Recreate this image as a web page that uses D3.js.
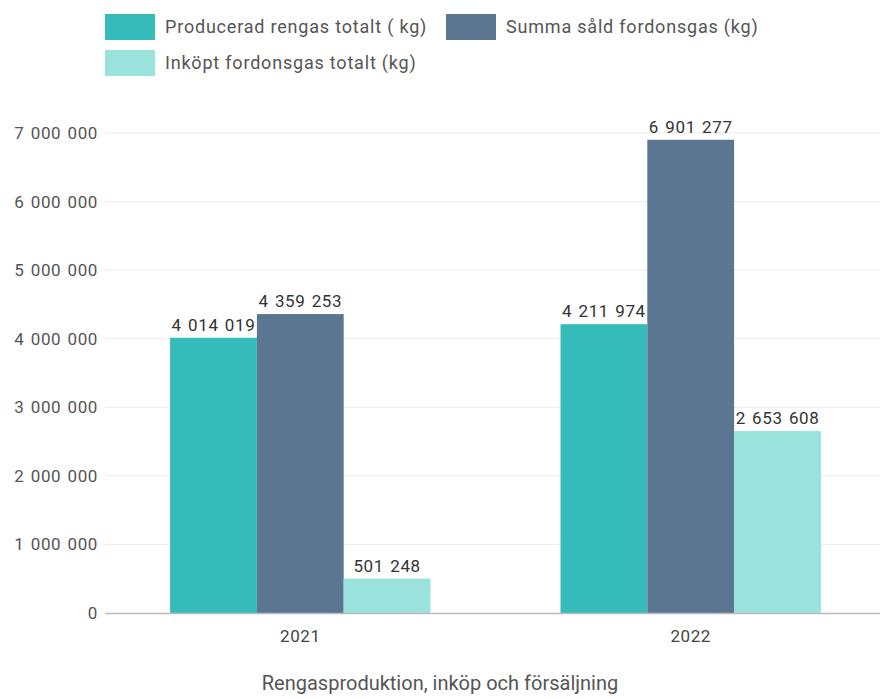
<!DOCTYPE html>
<html><head><meta charset="utf-8">
<script src="https://cdn.jsdelivr.net/npm/d3@7"></script>
<style>body{margin:0;background:#fff;font-family:Roboto,sans-serif}</style>
</head><body>
<svg id="c" width="880" height="698"></svg>
<script>
const categories = ["2021", "2022"];
const seriesNames = ["Producerad rengas totalt ( kg)", "Summa såld fordonsgas (kg)", "Inköpt fordonsgas totalt (kg)"];
const seriesColors = ["#36BBBB", "#5A7690", "#9AE3DD"];
const producerad = [4014019, 4211974];
const summaSald = [4359253, 6901277];
const inkopt = [501248, 2653608];
const yTicks = [0, 1000000, 2000000, 3000000, 4000000, 5000000, 6000000, 7000000];
const title = "Rengasproduktion, inköp och försäljning";

const series = [producerad, summaSald, inkopt];
const svg = d3.select("#c");
const loc = d3.formatLocale({decimal: ",", thousands: " ", grouping: [3], currency: ["", ""]});
const fmt = loc.format(",d");

const pLeft = 105, pRight = 886, pTop = 133, pBottom = 613;
const y = d3.scaleLinear().domain([0, 7000000]).range([pBottom, pTop]);
const x0 = d3.scaleBand().domain(categories).range([pLeft, pRight]).paddingInner(0.333).paddingOuter(0.1667);
const x1 = d3.scaleBand().domain(d3.range(series.length)).range([0, x0.bandwidth()]);

// grid
svg.append("g").selectAll("line").data(yTicks.filter(d => d > 0)).join("line")
  .attr("x1", pLeft).attr("x2", 880).attr("y1", d => y(d)).attr("y2", d => y(d))
  .attr("stroke", "#ebebeb").attr("stroke-width", 1);

// y axis labels
const ya = svg.append("g").attr("transform", `translate(${pLeft},0)`)
  .call(d3.axisLeft(y).tickValues(yTicks).tickSize(0).tickPadding(7).tickFormat(fmt));
ya.select(".domain").remove();
ya.selectAll("text").attr("font-family", "Roboto, sans-serif").attr("font-size", 17)
  .style("letter-spacing", "0.6px").style("word-spacing", "1.5px").attr("fill", "#555");

// bars
const groups = svg.append("g").selectAll("g").data(categories).join("g")
  .attr("transform", d => `translate(${x0(d)},0)`);
groups.each(function(cat, ci) {
  const g = d3.select(this);
  series.forEach((s, si) => {
    g.append("rect").attr("x", x1(si)).attr("width", x1.bandwidth())
      .attr("y", y(s[ci])).attr("height", y(0) - y(s[ci]))
      .attr("fill", seriesColors[si]);
    g.append("text").attr("x", x1(si) + x1.bandwidth() / 2).attr("y", y(s[ci]) - 7)
      .attr("text-anchor", "middle").attr("font-size", 17).attr("fill", "#333")
      .style("letter-spacing", "0.6px").style("word-spacing", "1.5px")
      .text(fmt(s[ci]));
  });
});

// baseline
svg.append("line").attr("x1", pLeft).attr("x2", 880).attr("y1", y(0) + 0.5).attr("y2", y(0) + 0.5)
  .attr("stroke", "#bbb").attr("stroke-width", 1.5);

// x axis labels
const xa = svg.append("g").attr("transform", `translate(0,${pBottom})`)
  .call(d3.axisBottom(x0).tickSize(0).tickPadding(17));
xa.select(".domain").remove();
xa.selectAll("text").attr("font-family", "Roboto, sans-serif").attr("font-size", 17)
  .style("letter-spacing", "0.6px").attr("fill", "#444");

// title
svg.append("text").attr("x", 440).attr("y", 690).attr("text-anchor", "middle")
  .attr("font-size", 20).attr("fill", "#555").text(title);

// legend
const legendPos = [[105, 14], [446, 14], [105, 50]];
seriesNames.forEach((n, i) => {
  const [lx, ly] = legendPos[i];
  svg.append("rect").attr("x", lx).attr("y", ly).attr("width", 50).attr("height", 26).attr("fill", seriesColors[i]);
  svg.append("text").attr("x", lx + 60).attr("y", ly + 19).attr("font-size", 18)
    .style("letter-spacing", "0.8px").attr("fill", "#555").text(n);
});
</script>
</body></html>
